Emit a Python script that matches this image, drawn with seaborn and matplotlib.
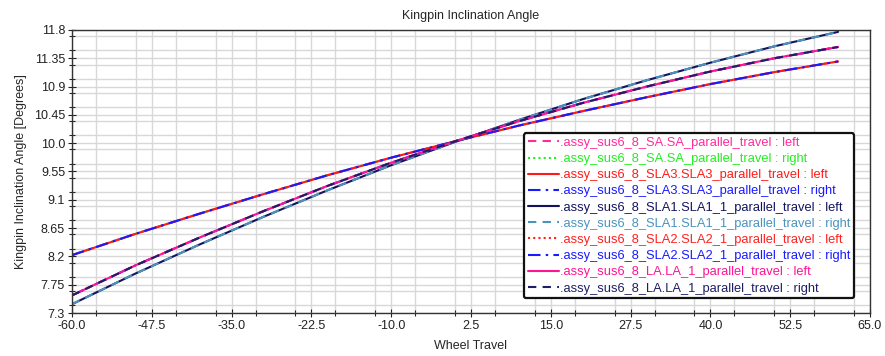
import numpy as np
import pandas as pd
import matplotlib
matplotlib.use("Agg")
import matplotlib.pyplot as plt
from matplotlib.ticker import MultipleLocator, FixedLocator
import seaborn as sns

# ---- data ----
wheel_travel = [-60, -50, -40, -30, -20, -10, 0, 10, 20, 30, 40, 50, 60]

kpi_sa_left = [8.22, 8.56, 8.88, 9.19, 9.49, 9.77, 10.03, 10.28, 10.51, 10.73, 10.94, 11.13, 11.30]
kpi_sa_right = [8.22, 8.56, 8.88, 9.19, 9.49, 9.77, 10.03, 10.28, 10.51, 10.73, 10.94, 11.13, 11.30]
kpi_sla3_left = [8.22, 8.56, 8.88, 9.19, 9.49, 9.77, 10.03, 10.28, 10.51, 10.73, 10.94, 11.13, 11.30]
kpi_sla3_right = [8.22, 8.56, 8.88, 9.19, 9.49, 9.77, 10.03, 10.28, 10.51, 10.73, 10.94, 11.13, 11.30]
kpi_sla1_left = [7.44, 7.93, 8.39, 8.83, 9.25, 9.65, 10.02, 10.37, 10.70, 11.00, 11.28, 11.54, 11.77]
kpi_sla1_right = [7.44, 7.93, 8.39, 8.83, 9.25, 9.65, 10.02, 10.37, 10.70, 11.00, 11.28, 11.54, 11.77]
kpi_sla2_left = [7.58, 8.06, 8.50, 8.92, 9.32, 9.69, 10.03, 10.35, 10.64, 10.90, 11.14, 11.35, 11.53]
kpi_sla2_right = [7.58, 8.06, 8.50, 8.92, 9.32, 9.69, 10.03, 10.35, 10.64, 10.90, 11.14, 11.35, 11.53]
kpi_la_left = [7.58, 8.06, 8.50, 8.92, 9.32, 9.69, 10.03, 10.35, 10.64, 10.90, 11.14, 11.35, 11.53]
kpi_la_right = [7.58, 8.06, 8.50, 8.92, 9.32, 9.69, 10.03, 10.35, 10.64, 10.90, 11.14, 11.35, 11.53]

series_labels = [
    ".assy_sus6_8_SA.SA_parallel_travel : left",
    ".assy_sus6_8_SA.SA_parallel_travel : right",
    ".assy_sus6_8_SLA3.SLA3_parallel_travel : left",
    ".assy_sus6_8_SLA3.SLA3_parallel_travel : right",
    ".assy_sus6_8_SLA1.SLA1_1_parallel_travel : left",
    ".assy_sus6_8_SLA1.SLA1_1_parallel_travel : right",
    ".assy_sus6_8_SLA2.SLA2_1_parallel_travel : left",
    ".assy_sus6_8_SLA2.SLA2_1_parallel_travel : right",
    ".assy_sus6_8_LA.LA_1_parallel_travel : left",
    ".assy_sus6_8_LA.LA_1_parallel_travel : right",
]
series_values = [kpi_sa_left, kpi_sa_right, kpi_sla3_left, kpi_sla3_right,
                 kpi_sla1_left, kpi_sla1_right, kpi_sla2_left, kpi_sla2_right,
                 kpi_la_left, kpi_la_right]

x_ticks = [-60.0, -47.5, -35.0, -22.5, -10.0, 2.5, 15.0, 27.5, 40.0, 52.5, 65.0]
y_ticks = [7.3, 7.75, 8.2, 8.65, 9.1, 9.55, 10.0, 10.45, 10.9, 11.35, 11.8]

# ---- styles ----
colors = ["#ff2b9c", "#22ee22", "#ff1a1a", "#1a1aff", "#14145e",
          "#4b93bd", "#ff2020", "#1a1aff", "#ff1493", "#1e1e66"]
dashes = [(0, (4, 3)), (0, (1, 1.5)), "-", (0, (6, 2.5, 1.2, 2.5)), "-",
          (0, (4, 3)), (0, (1, 1.5)), (0, (6, 2.5, 1.2, 2.5)), "-", (0, (4, 3))]

sns.set_style("white")
plt.rcParams["font.family"] = ["Liberation Sans", "DejaVu Sans"]

fig = plt.figure(figsize=(8.85, 3.56), dpi=100)
ax = fig.add_axes([72 / 885, 43 / 356, 798 / 885, 283 / 356])

handles = []
for lab, vals, c, ls in zip(series_labels, series_values, colors, dashes):
    df = pd.DataFrame({"Wheel Travel": wheel_travel, "KPI": vals})
    sns.lineplot(data=df, x="Wheel Travel", y="KPI", ax=ax, color=c,
                 linewidth=1.5, linestyle=ls, label=lab, legend=False)
    handles.append(ax.lines[-1])

ax.set_xlim(-60, 65)
ax.set_ylim(7.3, 11.8)
ax.xaxis.set_major_locator(FixedLocator(x_ticks))
ax.yaxis.set_major_locator(FixedLocator(y_ticks))
ax.set_xticklabels([f"{t:.1f}" for t in x_ticks])
ax.set_yticklabels([f"{t:g}" if t != 10.0 else "10.0" for t in y_ticks])
ax.xaxis.set_minor_locator(MultipleLocator(6.25))
ax.yaxis.set_minor_locator(MultipleLocator(0.225))
ax.grid(True, which="both", color="#d8d8d8", linewidth=1.0)
ax.set_axisbelow(True)
ax.tick_params(which="major", direction="inout", length=6, width=0.8, labelsize=9,
               colors="#222222", left=True, bottom=True, pad=2)
ax.tick_params(which="minor", direction="inout", length=4, width=0.8, left=True, bottom=True)
for s in ax.spines.values():
    s.set_color("#333333")
    s.set_linewidth(1.0)

ax.set_xlabel("Wheel Travel", fontsize=9, labelpad=6)
ax.set_ylabel("Kingpin Inclination Angle [Degrees]", fontsize=9, labelpad=5)
ax.set_title("Kingpin Inclination Angle", fontsize=9, pad=8)

leg = ax.legend(handles=handles, labels=series_labels, loc="upper left",
                bbox_to_anchor=(0.566, 0.636), fontsize=9.3, frameon=True,
                fancybox=True, handlelength=2.4, handletextpad=0.1,
                labelspacing=0.32, borderpad=0.3, borderaxespad=0)
leg.get_frame().set_edgecolor("#111111")
leg.get_frame().set_linewidth(1.6)
leg.get_frame().set_alpha(1)
for txt, c in zip(leg.get_texts(), colors):
    txt.set_color(c)

fig.savefig("out.png", dpi=100)
